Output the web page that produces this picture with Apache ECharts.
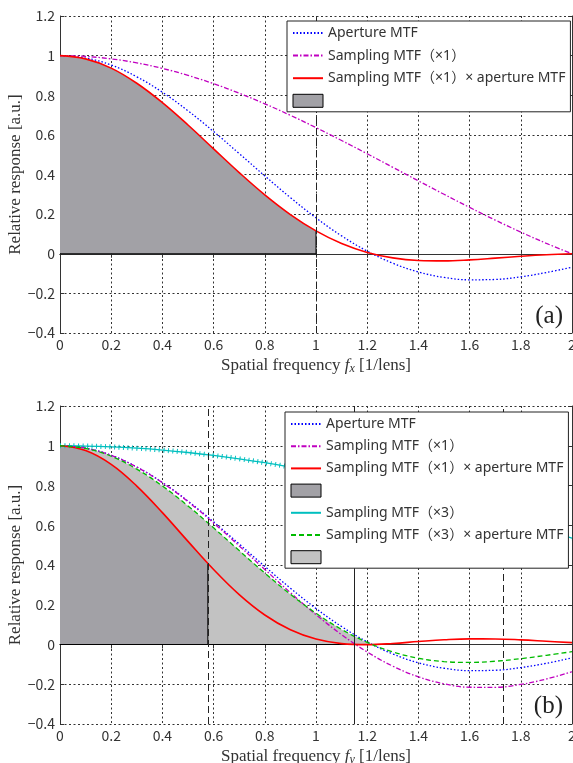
<!DOCTYPE html>
<html>
<head>
<meta charset="utf-8">
<script src="https://cdn.jsdelivr.net/npm/echarts@6/dist/echarts.min.js"></script>
<style>
  html, body { margin: 0; padding: 0; background: #fff; }
  #main { width: 573px; height: 763px; }
</style>
</head>
<body>
<div id="main"></div>
<script>
// spatial frequency samples (1/lens)
var freq = [0, 0.1, 0.2, 0.3, 0.4, 0.5, 0.6, 0.7, 0.8, 0.9, 1.0,
            1.1, 1.2, 1.3, 1.4, 1.5, 1.6, 1.7, 1.8, 1.9, 2.0];

// (a) fx direction
var apertureMTF = [1, 0.9877, 0.9524, 0.8931, 0.8152, 0.7217, 0.6170, 0.5057, 0.3929, 0.2833, 0.1812,
                   0.0902, 0.0133, -0.0477, -0.0920, -0.1195, -0.1315, -0.1297, -0.1164, -0.0947, -0.0676];
var samplingX1 = [1, 0.9959, 0.9836, 0.9634, 0.9355, 0.9003, 0.8584, 0.8103, 0.7568, 0.6987, 0.6366,
                  0.5716, 0.5046, 0.4363, 0.3679, 0.3001, 0.2339, 0.1700, 0.1093, 0.0524, 0];
var productX1 = [1, 0.9836, 0.9368, 0.8604, 0.7626, 0.6498, 0.5296, 0.4098, 0.2974, 0.1979, 0.1154,
                 0.0516, 0.0067, -0.0208, -0.0338, -0.0359, -0.0308, -0.0221, -0.0127, -0.0050, 0];

// (b) fy direction
var samplingY1 = [1, 0.9877, 0.9514, 0.8926, 0.8140, 0.7189, 0.6114, 0.4961, 0.3777, 0.2609, 0.1502,
                  0.0495, -0.0377, -0.1089, -0.1625, -0.1978, -0.2151, -0.2154, -0.2007, -0.1736, -0.1371];
var productY1 = [1, 0.9756, 0.9061, 0.7972, 0.6636, 0.5188, 0.3772, 0.2509, 0.1484, 0.0739, 0.0272,
                 0.0045, -0.0005, 0.0052, 0.0149, 0.0236, 0.0283, 0.0279, 0.0234, 0.0164, 0.0093];
var samplingY3 = [1, 0.9986, 0.9945, 0.9877, 0.9782, 0.9661, 0.9514, 0.9342, 0.9146, 0.8926, 0.8685,
                  0.8422, 0.8140, 0.7839, 0.7522, 0.7189, 0.6842, 0.6484, 0.6114, 0.5736, 0.5351];
var productY3 = [1, 0.9863, 0.9472, 0.8821, 0.7974, 0.6972, 0.5870, 0.4724, 0.3593, 0.2529, 0.1574,
                 0.0760, 0.0108, -0.0374, -0.0692, -0.0859, -0.0900, -0.0841, -0.0712, -0.0543, -0.0362];

// shaded regions (frequency, response)
var fillA = [[0, 1], [0.1, 0.9836], [0.2, 0.9368], [0.3, 0.8604], [0.4, 0.7626], [0.5, 0.6498],
             [0.6, 0.5296], [0.7, 0.4098], [0.8, 0.2974], [0.9, 0.1979], [1.0, 0.1154]];
var fillB1 = [[0, 1], [0.1, 0.9756], [0.2, 0.9061], [0.3, 0.7972], [0.4, 0.6636], [0.5, 0.5188],
              [0.5774, 0.4100]];
var fillB3 = [[0, 1], [0.1, 0.9863], [0.2, 0.9472], [0.3, 0.8821], [0.4, 0.7974], [0.5, 0.6972],
              [0.6, 0.5870], [0.7, 0.4724], [0.8, 0.3593], [0.9, 0.2529], [1.0, 0.1574],
              [1.1, 0.0760], [1.2, 0.0108], [1.22, 0]];

// vertical reference lines
var cutoffA = [1];
var dashedB = [0.5774, 1.7321];
var solidB = [1.1547];

var NAME_AP = 'Aperture MTF';
var NAME_S1 = 'Sampling MTF（×1）';
var NAME_P1 = 'Sampling MTF（×1）× aperture MTF';
var NAME_S3 = 'Sampling MTF（×3）';
var NAME_P3 = 'Sampling MTF（×3）× aperture MTF';
var NAME_F1 = '\u00a0';
var NAME_F3 = '\u00a0\u00a0';

var C_BLUE = '#0000ff', C_MAG = '#c000c0', C_RED = '#ff0000', C_CYAN = '#00bfbf', C_GREEN = '#00bb00';
var DARK = '#a2a1a6', LIGHT = '#c2c2c2';

var chart = echarts.init(document.getElementById('main'));

function pairs(ys) {
  return freq.map(function (f, i) { return [f, ys[i]]; });
}
function fmt(v) {
  var s = String(+v.toFixed(1));
  return v < 0 ? s.replace('-', '\u2212') : s;
}

function curve(name, ys, gi, color, type, width, z) {
  return {
    name: name, type: 'line', xAxisIndex: gi * 2, yAxisIndex: gi * 2,
    data: pairs(ys), smooth: 0.4, symbol: 'none', z: z || 4,
    lineStyle: { color: color, width: width, type: type },
    itemStyle: { color: color }
  };
}
function fill(name, pts, gi, color, z) {
  var last = pts[pts.length - 1];
  return [{
    name: name, type: 'line', xAxisIndex: gi * 2, yAxisIndex: gi * 2,
    data: pts, smooth: 0.4, symbol: 'none', z: z,
    lineStyle: { width: 0, color: color },
    itemStyle: { color: color, borderColor: '#000', borderWidth: 1 },
    areaStyle: { color: color, opacity: 1, origin: 0 }
  }, {
    name: 'edge', type: 'line', xAxisIndex: gi * 2, yAxisIndex: gi * 2,
    data: [[pts[0][0], 0], [last[0], 0], [last[0], last[1]]],
    symbol: 'none', z: z + 0.5, silent: true,
    lineStyle: { color: '#000', width: 1 }
  }];
}
function vlines(xs, gi, type) {
  return {
    name: 'vline', type: 'line', xAxisIndex: gi * 2, yAxisIndex: gi * 2, data: [],
    markLine: {
      silent: true, symbol: 'none', animation: false, label: { show: false },
      lineStyle: { color: '#222', width: 1, type: type },
      data: xs.map(function (x) { return { xAxis: x }; })
    }, z: 3
  };
}

var grids = [
  { left: 60, right: 1, top: 16, height: 317, outerBoundsMode: 'none', containLabel: false },
  { left: 60, right: 1, top: 406, height: 318, outerBoundsMode: 'none', containLabel: false }
];

var axisFont = { fontFamily: 'Noto Sans CJK JP', fontSize: 14, color: '#333' };
var nameFont = { fontFamily: 'Liberation Serif', fontSize: 17, color: '#333' };
var lineSty = { lineStyle: { color: '#333', width: 1 } };

var xAxes = [], yAxes = [];
['x', 'y'].forEach(function (sub, gi) {
  xAxes.push({
    type: 'value', gridIndex: gi, min: 0, max: 2, interval: 0.2, position: 'bottom',
    axisLine: lineSty, axisTick: { inside: true, length: 4, lineStyle: { color: '#333' } },
    axisLabel: Object.assign({ margin: 5, hideOverlap: false, formatter: function (v) { return fmt(v); } }, axisFont),
    splitLine: { show: true, lineStyle: { color: '#333', type: [2, 2.5], width: 1 } },
    name: '{n|Spatial frequency }{i|f}{s|' + sub + '}{n| [1/lens]}',
    nameLocation: 'middle', nameGap: 23,
    nameTextStyle: {
      rich: {
        n: nameFont,
        i: Object.assign({}, nameFont, { fontStyle: 'italic' }),
        s: Object.assign({}, nameFont, { fontStyle: 'italic', fontSize: 12, padding: [7, 0, 0, 0] })
      }
    }
  });
  xAxes.push({
    type: 'value', gridIndex: gi, min: 0, max: 2, interval: 0.2, position: 'top',
    axisLine: lineSty, axisTick: { inside: true, length: 4, lineStyle: { color: '#333' } },
    axisLabel: { show: false }, splitLine: { show: false }
  });
  yAxes.push({
    type: 'value', gridIndex: gi, min: -0.4, max: 1.2, interval: 0.2, position: 'left',
    axisLine: Object.assign({ onZero: false }, lineSty),
    axisTick: { inside: true, length: 4, lineStyle: { color: '#333' } },
    axisLabel: Object.assign({ margin: 5, formatter: function (v) { return fmt(v); } }, axisFont),
    splitLine: { show: true, lineStyle: { color: '#333', type: [2, 2.5], width: 1 } },
    name: 'Relative response [a.u.]', nameLocation: 'middle', nameGap: 36,
    nameMoveOverlap: false,
    nameTextStyle: nameFont
  });
  yAxes.push({
    type: 'value', gridIndex: gi, min: -0.4, max: 1.2, interval: 0.2, position: 'right',
    axisLine: Object.assign({ onZero: false }, lineSty),
    axisTick: { inside: true, length: 4, lineStyle: { color: '#333' } },
    axisLabel: { show: false }, splitLine: { show: false }
  });
});

var series = [].concat(
  // (a)
  fill(NAME_F1, fillA, 0, DARK, 1),
  [vlines(cutoffA, 0, [7, 4])],
  [curve(NAME_AP, apertureMTF, 0, C_BLUE, [1.5, 2], 1.3),
   curve(NAME_S1, samplingX1, 0, C_MAG, [5, 2, 1.5, 2], 1.3),
   curve(NAME_P1, productX1, 0, C_RED, 'solid', 1.6)],
  // (b)
  fill(NAME_F3, fillB3, 1, LIGHT, 1),
  fill(NAME_F1, fillB1, 1, DARK, 2),
  [vlines(dashedB, 1, [7, 4]), vlines(solidB, 1, 'solid')],
  [curve(NAME_S3, samplingY3, 1, C_CYAN, 'solid', 1.3),
   curve('marks', samplingY3, 1, C_CYAN, [1, 3.5], 5, 4),
   curve(NAME_AP, apertureMTF, 1, C_BLUE, [1.5, 2], 1.3),
   curve(NAME_S1, samplingY1, 1, C_MAG, [5, 2, 1.5, 2], 1.3),
   curve(NAME_P1, productY1, 1, C_RED, 'solid', 1.6),
   curve(NAME_P3, productY3, 1, C_GREEN, [5, 3], 1.3)]
);

function legendItem(name, color) {
  if (color) return { name: name, icon: 'rect', itemStyle: { color: color, borderColor: '#000', borderWidth: 1, opacity: 1 } };
  return { name: name, itemStyle: { opacity: 0 } };
}
var legendBase = {
  orient: 'vertical', itemWidth: 30, itemHeight: 13, itemGap: 8.6,
  padding: [5, 5, 4, 5], backgroundColor: '#fff', borderColor: '#222', borderWidth: 1,
  selectedMode: false, z: 10,
  textStyle: { fontFamily: '"Noto Sans", "Noto Sans CJK JP"', fontSize: 14, color: '#333' }
};

chart.setOption({
  animation: false,
  backgroundColor: '#fff',
  grid: grids,
  xAxis: xAxes,
  yAxis: yAxes,
  legend: [
    Object.assign({}, legendBase, {
      left: 287, top: 21,
      data: [legendItem(NAME_AP), legendItem(NAME_S1), legendItem(NAME_P1), legendItem(NAME_F1, DARK)]
    }),
    Object.assign({}, legendBase, {
      left: 285, top: 412, itemGap: 8.2,
      data: [legendItem(NAME_AP), legendItem(NAME_S1), legendItem(NAME_P1), legendItem(NAME_F1, DARK),
             legendItem(NAME_S3), legendItem(NAME_P3), legendItem(NAME_F3, LIGHT)]
    })
  ],
  graphic: [
    { type: 'text', right: 10, top: 304, z: 20,
      style: { text: '(a)', font: '25px "Liberation Serif"', fill: '#222' } },
    { type: 'text', right: 10, top: 694, z: 20,
      style: { text: '(b)', font: '25px "Liberation Serif"', fill: '#222' } }
  ],
  series: series
});
</script>
</body>
</html>
